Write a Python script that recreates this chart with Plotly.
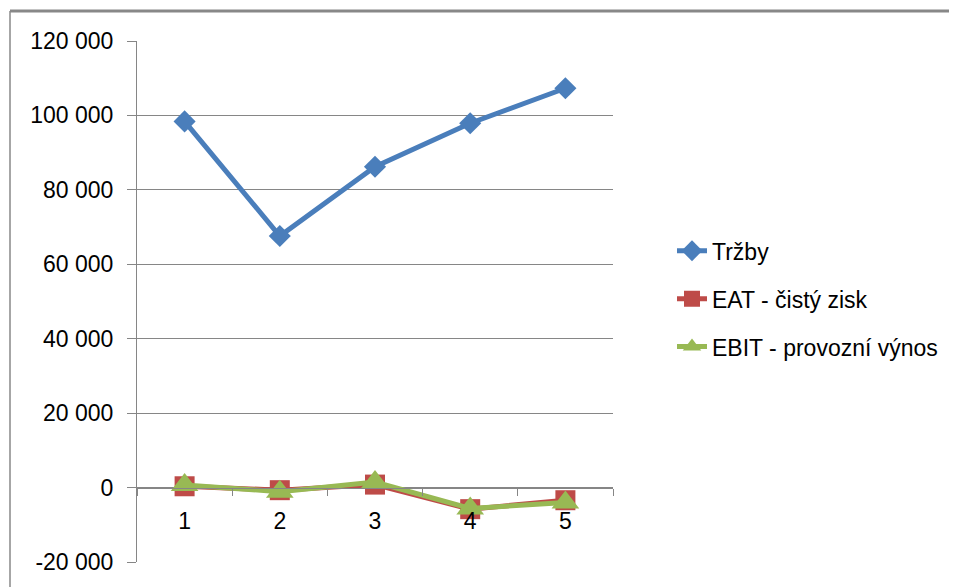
import plotly.graph_objects as go

categories = ["1", "2", "3", "4", "5"]
trzby = [98400, 67600, 86200, 97900, 107300]
eat = [350, -700, 800, -5800, -3400]
ebit = [700, -1100, 1500, -5600, -4000]

y_tickvals = [-20000, 0, 20000, 40000, 60000, 80000, 100000, 120000]
y_ticktext = ["-20 000", "0", "20 000", "40 000", "60 000", "80 000", "100 000", "120 000"]

# page body offset of the browser
OFF = 8
W, H = 957 - OFF, 587 - OFF
ML, MT = 137 - OFF, 41 - OFF
PW, PH = 476, 523
MR = W - ML - PW
MB = H - MT - PH

def px_x(p):
    return (p - OFF - ML) / PW

def px_y(p):
    return (MT + PH - (p - OFF)) / PH

GRID = "#868686"
FONT = "Liberation Sans"
FS = 23

fig = go.Figure()
fig.add_trace(go.Scatter(
    x=categories, y=trzby, name="Tržby", mode="lines+markers",
    line=dict(color="#4A7EBB", width=5),
    marker=dict(symbol="diamond", size=17, color="#4A7EBB"),
    legendgroup="a",
))
fig.add_trace(go.Scatter(
    x=categories, y=eat, name="EAT - čistý zisk", mode="lines+markers",
    line=dict(color="#BE4B48", width=5),
    marker=dict(symbol="square", size=20, color="#BE4B48"),
    legendgroup="b",
))
fig.add_trace(go.Scatter(
    x=categories, y=ebit, name="EBIT - provozní výnos", mode="lines+markers",
    line=dict(color="#98B954", width=5),
    marker=dict(symbol="triangle-up", size=24, color="#98B954"),
    legendgroup="c",
))

fig.update_layout(
    width=W, height=H,
    margin=dict(l=ML, r=MR, t=MT, b=MB, pad=0),
    paper_bgcolor="white", plot_bgcolor="white",
    font=dict(family=FONT, size=FS, color="#000000"),
    showlegend=True,
    legend=dict(
        x=px_x(672), xanchor="left", y=px_y(230), yanchor="top",
        traceorder="grouped", tracegroupgap=15,
        font=dict(family=FONT, size=FS, color="#000000"),
        bgcolor="rgba(0,0,0,0)",
    ),
    xaxis=dict(
        type="category", categoryorder="array", categoryarray=categories,
        range=[-0.5, 4.5], anchor="free", position=1/7,
        showline=True, linecolor=GRID, linewidth=1,
        ticks="outside", tickson="boundaries", ticklen=7, tickcolor=GRID, tickwidth=1,
        showgrid=False, zeroline=False, ticklabelstandoff=13,
        tickfont=dict(family=FONT, size=FS, color="#000000"),
    ),
    yaxis=dict(
        range=[-20000, 120000], tickvals=y_tickvals, ticktext=y_ticktext,
        showline=True, linecolor=GRID, linewidth=1,
        ticks="outside", ticklen=9, tickcolor=GRID, tickwidth=1,
        showgrid=True, gridcolor=GRID, gridwidth=1, zeroline=False,
        ticklabelstandoff=9,
        tickfont=dict(family=FONT, size=FS, color="#000000"),
    ),
    shapes=[
        dict(type="line", xref="paper", yref="paper",
             x0=px_x(10), x1=px_x(957 + 5), y0=px_y(11), y1=px_y(11),
             line=dict(color="#888888", width=3), layer="above"),
        dict(type="line", xref="paper", yref="paper",
             x0=px_x(10), x1=px_x(10), y0=px_y(11), y1=px_y(587 + 5),
             line=dict(color="#888888", width=1.5), layer="above"),
    ],
)

fig.write_html("out.html")
